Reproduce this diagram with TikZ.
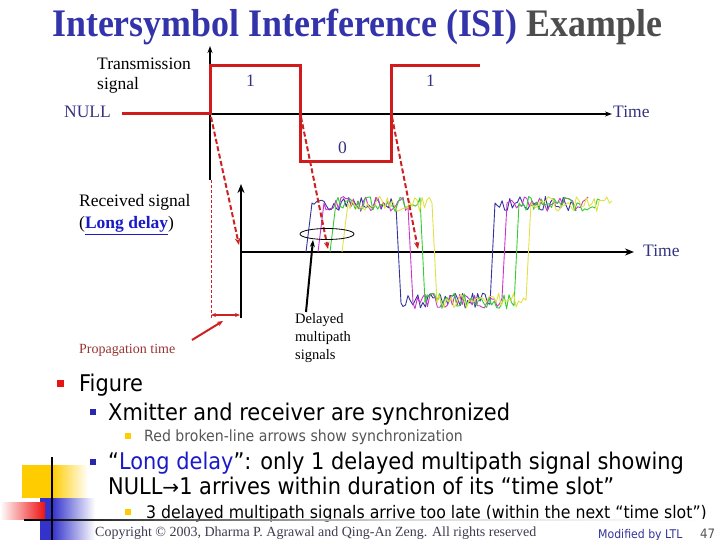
\documentclass[tikz,border=0pt]{standalone}
\usepackage{fontspec}
\setmainfont{Liberation Serif}
\newfontfamily\titlefont{Liberation Serif}[FakeStretch=0.92]
\newfontfamily\tah{DejaVu Sans}[FakeStretch=0.91]
\newfontfamily\symf{DejaVu Sans}
\usetikzlibrary{arrows.meta,shapes.geometric}
\definecolor{titleblue}{RGB}{51,51,170}
\definecolor{titlegray}{RGB}{77,77,77}
\definecolor{sigred}{RGB}{208,28,28}
\definecolor{dashred}{RGB}{204,34,34}
\definecolor{lblblue}{RGB}{51,51,128}
\definecolor{propred}{RGB}{153,51,51}
\definecolor{tnavy}{RGB}{51,51,153}
\definecolor{tmag}{RGB}{204,51,204}
\definecolor{tgreen}{RGB}{51,204,51}
\definecolor{tyellow}{RGB}{225,225,70}
\definecolor{linkblue}{RGB}{26,26,200}
\definecolor{bulblue}{RGB}{40,40,170}
\definecolor{bulyellow}{RGB}{255,204,0}
\definecolor{bulred}{RGB}{230,20,20}
\definecolor{subgray}{RGB}{85,85,85}
\definecolor{copygray}{RGB}{60,60,80}
\definecolor{decoyellow}{RGB}{255,204,0}
\definecolor{decored}{RGB}{238,17,17}
\definecolor{decoblue}{RGB}{51,51,204}
\newcommand\sigtrace[2]{%
  \begin{scope}[xshift=#2pt]
  \draw[#1, line width=0.9pt, line join=round]
    (306,252) -- (312,203)
    -- plot[domain=314:396, samples=34] (\x,{204+7.5*rand})
    -- (401,303)
    -- plot[domain=403:490, samples=36] (\x,{301+8*rand})
    -- (495,203)
    -- plot[domain=497:576, samples=32] (\x,{204+7.5*rand});
  \end{scope}}
\begin{document}
\begin{tikzpicture}[x=1pt,y=-1pt,
  lbl/.style={inner sep=0pt, anchor=base west},
  serif17/.style={lbl, font=\fontsize{17.5}{19}\selectfont},
  axisthin/.style={line width=1.2pt, -{Stealth[length=7pt,width=5pt]}},
  axisthick/.style={line width=2.4pt, -{Stealth[length=9pt,width=7pt]}},
  syncarrow/.style={dashred, line width=2pt, dash pattern=on 5pt off 2.5pt, -{Stealth[length=7pt,width=5.5pt]}},
  sqbullet/.style={inner sep=0pt, minimum size=#1, draw=none}
]
\useasboundingbox (0,0) rectangle (720,540);
\pgfmathsetseed{11}

% title
\node[lbl, font=\titlefont\bfseries\fontsize{39}{42}\selectfont] (title) at (52,37)
  {\textcolor{titleblue}{Intersymbol Interference (ISI)} \textcolor{titlegray}{Example}};

% transmission axes
\coordinate (tO) at (210,114);
\coordinate (tTop) at (210,46);
\coordinate (tBot) at (210,180);
\coordinate (tEnd) at (612,114);
\draw[axisthin] (tBot) -- (tTop);
\draw[axisthin] (tO) -- (tEnd);

% transmission signal
\coordinate (n0) at (122,114);
\draw[sigred, line width=3pt, line join=miter] (n0) -- (tO) -- (210,66) -- (300,66) -- (300,162) -- (391,162) -- (391,66) -- (480,66);

\node[serif17] (trans) at (97,70) {Transmission};
\node[serif17] (sig) at (97,90) {signal};
\node[serif17, text=lblblue] (null) at (64,118) {NULL};
\node[serif17, text=lblblue] (time1) at (613,118) {Time};
\node[serif17, text=lblblue] (one1) at (246,87) {1};
\node[serif17, text=lblblue] (one2) at (426,87) {1};
\node[serif17, text=lblblue] (zero) at (338,154) {0};

% received axes
\coordinate (rO) at (241,252);
\coordinate (rTop) at (241,184);
\coordinate (rBot) at (241,318);
\coordinate (rEnd) at (634,252);
\draw[axisthick] (rBot) -- (rTop);
\draw[axisthick] (rO) -- (rEnd);
\node[serif17, text=lblblue] (time2) at (643,256) {Time};
\node[serif17] (recv) at (79,207) {Received signal};
\node[serif17] (recv2) at (79,229) {(\textcolor{linkblue}{\bfseries\underline{Long delay}})};

% signal traces
\sigtrace{tnavy}{0}
\sigtrace{tmag}{12}
\sigtrace{tgreen}{24}
\sigtrace{tyellow}{36}

% synchronization arrows
\coordinate (s1) at (211,117);
\coordinate (e1) at (239,245);
\coordinate (s2) at (301,117);
\coordinate (e2) at (328,249);
\coordinate (s3) at (392,117);
\coordinate (e3) at (418,249);
\draw[syncarrow] (s1) -- (e1);
\draw[syncarrow] (s2) -- (e2);
\draw[syncarrow] (s3) -- (e3);

% propagation time
\coordinate (pv1) at (211,180);
\coordinate (pv2) at (211,318);
\draw[dashred, line width=0.8pt, dash pattern=on 3pt off 2pt] (pv1) -- (pv2);
\coordinate (pa) at (211,315);
\coordinate (pb) at (240,315);
\draw[dashred, line width=1.6pt, {Stealth[length=5pt,width=4pt]}-{Stealth[length=5pt,width=4pt]}] (pa) -- (pb);
\node[lbl, text=propred, font=\fontsize{14}{16}\selectfont] (prop) at (79,353) {Propagation time};
\coordinate (pt1) at (192,340);
\coordinate (pt2) at (223,321);
\draw[dashred, line width=2pt, -{Stealth[length=6pt,width=5pt]}] (pt1) -- (pt2);

% delayed multipath
\node[draw=black, line width=0.8pt, ellipse, minimum width=54pt, minimum height=11pt, inner sep=0pt] (ell) at (327,234) {};
\node[lbl, font=\fontsize{14.5}{16}\selectfont] (dl1) at (295,323) {Delayed};
\node[lbl, font=\fontsize{14.5}{16}\selectfont] (dl2) at (295,341) {multipath};
\node[lbl, font=\fontsize{14.5}{16}\selectfont] (dl3) at (295,359) {signals};
\coordinate (da) at (306,312);
\coordinate (db) at (313,240);
\draw[black, line width=2pt, -{Stealth[length=7pt,width=5pt]}] (da) -- (db);

% bullets
\node[sqbullet=7pt, fill=bulred] (b1) at (60,383) {};
\node[lbl, font=\tah\fontsize{23}{26}\selectfont] (t1) at (79,391) {Figure};
\node[sqbullet=6pt, fill=bulblue] (b2) at (93,412) {};
\node[lbl, font=\tah\fontsize{23}{26}\selectfont] (t2) at (108,420) {Xmitter and receiver are synchronized};
\node[sqbullet=6pt, fill=bulyellow] (b3) at (128,436) {};
\node[lbl, text=subgray, font=\tah\fontsize{15.5}{17}\selectfont] (t3) at (144,441) {Red broken-line arrows show synchronization};
\node[sqbullet=6pt, fill=bulblue] (b4) at (93,462) {};
\node[lbl, font=\tah\fontsize{23}{26}\selectfont] (t4) at (108,469) {“\textcolor{linkblue}{Long delay}”: only 1 delayed multipath signal showing};
\node[lbl, font=\tah\fontsize{23}{26}\selectfont] (t5) at (108,494) {NULL{\symf\fontsize{20}{22}\selectfont→}1 arrives within duration of its “time slot”};
\node[sqbullet=6pt, fill=bulyellow] (b5) at (128,512) {};
\node[lbl, font=\tah\fontsize{17.3}{20}\selectfont] (t6) at (146,518) {3 delayed multipath signals arrive too late (within the next “time slot”)};

% decoration
\shade[left color=decoyellow, right color=white] (52,465) rectangle (88,498);
\fill[decoyellow] (22,465) rectangle (52,498);
\shade[left color=decoblue, right color=white] (52,498) rectangle (95,540);
\fill[decoblue] (40,498) rectangle (52,540);
\shade[left color=white, right color=decored] (0,502) rectangle (45,519);
\shade[left color=black, right color=white!85!black] (24,519.3) rectangle (400,520.7);
\shade[left color=white!85!black, right color=white] (400,519.3) rectangle (710,520.7);
\coordinate (vl1) at (52,457);
\coordinate (vl2) at (52,540);
\draw[black, line width=1.6pt] (vl1) -- (vl2);

% footer
\node[lbl, text=copygray, font=\fontsize{14}{16}\selectfont] (copy) at (95,536) {Copyright © 2003, Dharma P. Agrawal and Qing-An Zeng. All rights reserved};
\node[lbl, text=tnavy, font=\tah\fontsize{12}{14}\selectfont] (mod) at (598,538) {Modified by LTL};
\node[lbl, text=subgray, font=\tah\fontsize{13}{14}\selectfont] (pg) at (700,538) {47};
\end{tikzpicture}
\end{document}
